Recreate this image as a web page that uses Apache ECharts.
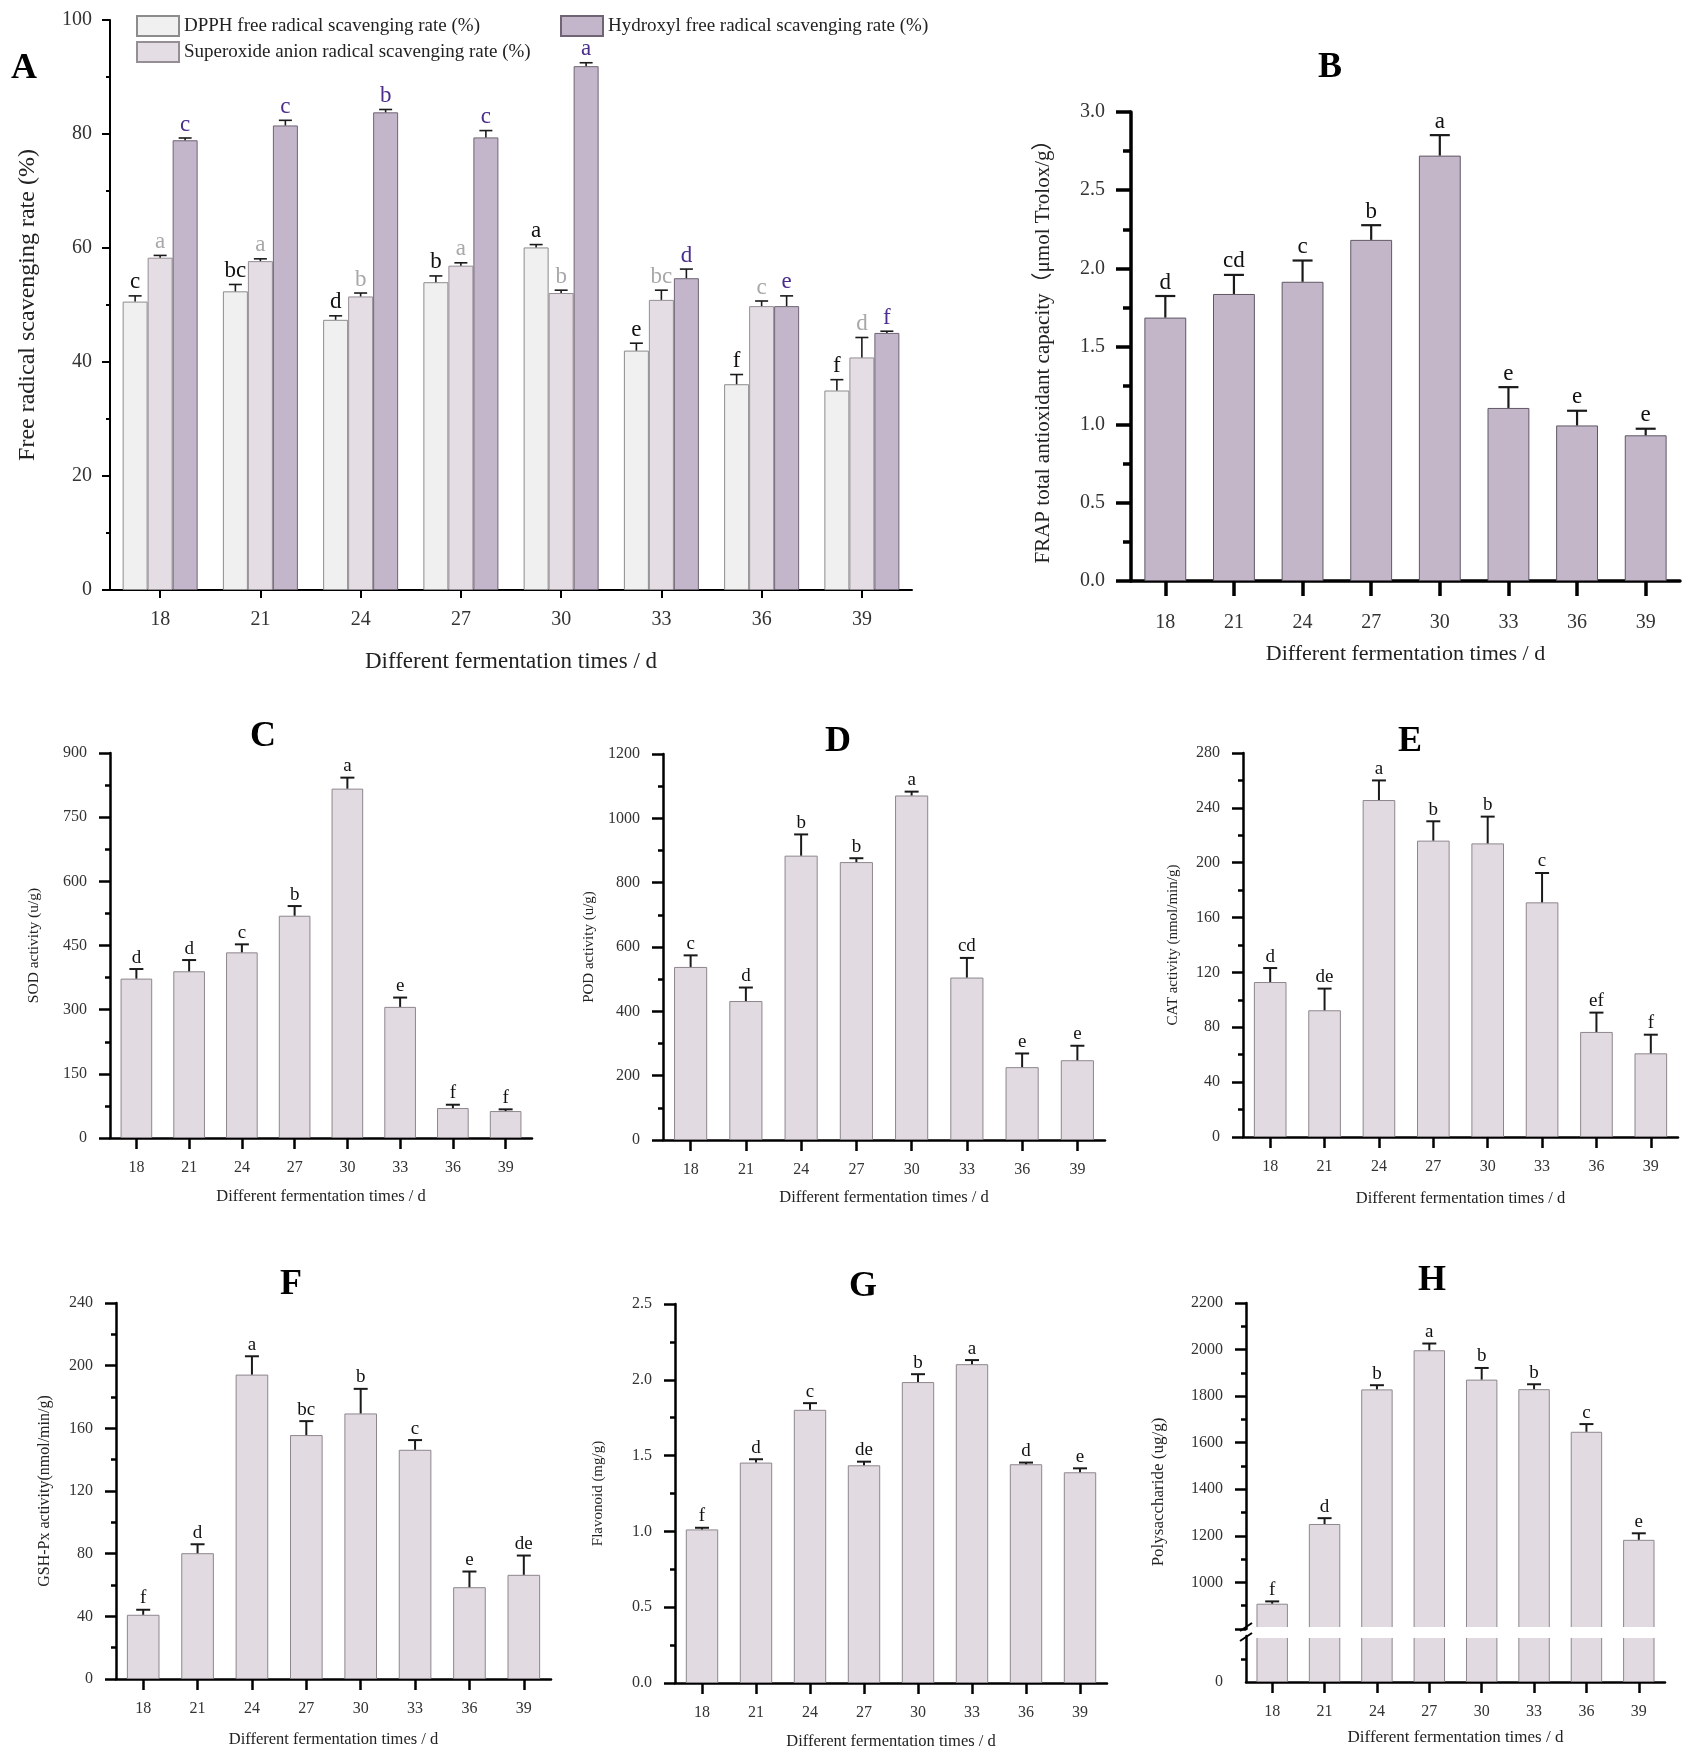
<!DOCTYPE html>
<html lang="en">
<head>
  <meta charset="UTF-8">
  <title>Antioxidant activity at different fermentation times</title>
  <script src="https://cdn.jsdelivr.net/npm/echarts@6/dist/echarts.min.js"></script>
  <style>
    html, body { margin: 0; padding: 0; background: #fff; }
    #main { width: 1697px; height: 1758px; }
  </style>
</head>
<body>
<div id="main"></div>
<script>
  var FONT = "'Liberation Serif', 'Noto Sans CJK SC', serif";
  var days = ['18', '21', '24', '27', '30', '33', '36', '39'];

  // A - free radical scavenging rate (%)
  var dpphMean = [50.6, 52.4, 47.4, 54.0, 60.1, 42.0, 36.1, 35.0];
  var dpphSd   = [1.0, 1.2, 0.7, 1.1, 0.5, 1.3, 1.7, 1.9];
  var dpphSig  = ['c', 'bc', 'd', 'b', 'a', 'e', 'f', 'f'];
  var supMean  = [58.3, 57.7, 51.5, 56.9, 52.1, 50.9, 49.8, 40.8];
  var supSd    = [0.4, 0.4, 0.6, 0.5, 0.5, 1.7, 0.9, 3.5];
  var supSig   = ['a', 'a', 'b', 'a', 'b', 'bc', 'c', 'd'];
  var hydMean  = [78.9, 81.5, 83.8, 79.4, 91.9, 54.7, 49.8, 45.1];
  var hydSd    = [0.4, 0.9, 0.5, 1.2, 0.6, 1.6, 1.8, 0.3];
  var hydSig   = ['c', 'c', 'b', 'c', 'a', 'd', 'e', 'f'];

  // B - FRAP
  var frapMean = [1.685, 1.836, 1.914, 2.182, 2.721, 1.107, 0.995, 0.932];
  var frapSd   = [0.138, 0.122, 0.136, 0.094, 0.131, 0.133, 0.094, 0.042];
  var frapSig  = ['d', 'cd', 'c', 'b', 'a', 'e', 'e', 'e'];

  // C - SOD
  var sodMean = [372.6, 389.7, 434, 519.6, 816.7, 306.5, 70, 63];
  var sodSd   = [22.4, 26.3, 18.7, 22.6, 25.7, 21.8, 7.8, 4];
  var sodSig  = ['d', 'd', 'c', 'b', 'a', 'e', 'f', 'f'];

  // D - POD
  var podMean = [538, 432, 884, 864, 1071, 505, 226.5, 248];
  var podSd   = [36, 42, 66, 12, 12, 61, 42.5, 45];
  var podSig  = ['c', 'd', 'b', 'b', 'a', 'cd', 'e', 'e'];

  // E - CAT
  var catMean = [113, 92.4, 245.7, 216.1, 214.1, 171.1, 76.6, 61];
  var catSd   = [10.2, 15.8, 14.3, 14.1, 19.5, 21.4, 14.1, 13.6];
  var catSig  = ['d', 'de', 'a', 'b', 'b', 'c', 'ef', 'f'];

  // F - GSH-Px
  var gshMean = [41, 80.3, 194.3, 155.7, 169.5, 146.3, 58.6, 66.5];
  var gshSd   = [3.2, 5.7, 11.7, 8.9, 15.7, 6.2, 10, 12.3];
  var gshSig  = ['f', 'd', 'a', 'bc', 'b', 'c', 'e', 'de'];

  // G - flavonoid
  var flaMean = [1.013, 1.454, 1.802, 1.436, 1.985, 2.103, 1.443, 1.39];
  var flaSd   = [0.011, 0.022, 0.044, 0.024, 0.052, 0.027, 0.011, 0.026];
  var flaSig  = ['f', 'd', 'c', 'de', 'b', 'a', 'd', 'e'];

  // H - polysaccharide (broken axis)
  var polMean = [908.6, 1251, 1829, 1997, 1871, 1830, 1647, 1183];
  var polSd   = [10, 25, 18, 29, 50, 21, 33, 28];
  var polSig  = ['f', 'd', 'b', 'a', 'b', 'b', 'c', 'e'];

  var xTitle = 'Different fermentation times / d';
  var grids = [], xAxes = [], yAxes = [], series = [];

  function addGrid(box, c) {
    var gi = grids.length;
    var xs = c.xShow !== false;
    grids.push({left: box[0], top: box[1], width: box[2], height: box[3]});
    xAxes.push({
      type: 'category', gridIndex: gi, data: days,
      axisLine: {show: xs, onZero: false, lineStyle: {color: '#000', width: c.lw}},
      axisTick: {show: xs, alignWithLabel: true, length: c.tick, lineStyle: {color: '#000', width: c.lw}},
      axisLabel: {show: xs, margin: c.xMargin, color: '#333', fontFamily: FONT, fontSize: c.fs},
      name: xs ? xTitle : '', nameLocation: 'middle', nameGap: c.xGap,
      nameTextStyle: {color: '#222', fontFamily: FONT, fontSize: c.xNameFs}
    });
    yAxes.push({
      type: 'value', gridIndex: gi, min: c.min, max: c.max, interval: c.step,
      axisLine: {show: true, lineStyle: {color: '#000', width: c.lw}},
      axisTick: {show: c.yTick !== false, length: c.tick, lineStyle: {color: '#000', width: c.lw}},
      minorTick: {show: true, splitNumber: 2, length: c.minor, lineStyle: {color: '#000', width: c.lw}},
      splitLine: {show: false},
      axisLabel: {margin: c.yMargin, color: '#333', fontFamily: FONT, fontSize: c.fs, formatter: c.fmt || plain},
      name: c.yName || '', nameLocation: 'middle', nameGap: c.yGap,
      nameTextStyle: {color: '#222', fontFamily: FONT, fontSize: c.yNameFs}
    });
    return gi;
  }

  function addBars(gi, name, means, width, style) {
    series.push({
      type: 'bar', name: name, xAxisIndex: gi, yAxisIndex: gi, data: means,
      barWidth: width, barGap: '0%', itemStyle: style, silent: true
    });
  }

  // error bar (upper half only) + significance letter
  function addErr(gi, means, sds, sig, o) {
    var data = means.map(function (m, i) { return [i, m, m + sds[i]]; });
    series.push({
      type: 'custom', xAxisIndex: gi, yAxisIndex: gi, data: data, z: 5, silent: true,
      renderItem: function (params, api) {
        var i = api.value(0);
        var p0 = api.coord([i, api.value(1)]);
        var p1 = api.coord([i, api.value(2)]);
        var x = p0[0] + (o.offset || 0);
        var ln = {stroke: '#1a1a1a', lineWidth: o.lw};
        return {
          type: 'group', children: [
            {type: 'line', shape: {x1: x, y1: p0[1], x2: x, y2: p1[1]}, style: ln},
            {type: 'line', shape: {x1: x - o.cap / 2, y1: p1[1], x2: x + o.cap / 2, y2: p1[1]}, style: ln},
            {type: 'text', x: x, y: p1[1] - 2, style: {
              text: sig[params.dataIndex], align: 'center', verticalAlign: 'bottom',
              font: o.font + 'px ' + FONT, fill: o.color || '#111'
            }}
          ]
        };
      }
    });
  }

  var plain = function (v) { return String(v); };
  var oneDec = function (v) { return v.toFixed(1); };
  var small = {lw: 2.5, tick: 11, minor: 5, fs: 16, xNameFs: 16.5, yNameFs: 15, xMargin: 22, yMargin: 23};
  function cfg(extra) {
    var r = {};
    for (var k in small) r[k] = small[k];
    for (var k2 in extra) r[k2] = extra[k2];
    return r;
  }
  var lilac = {color: '#e1dbe1', borderColor: '#8d878d', borderWidth: 1};

  // ---- A
  var gA = addGrid([110, 20, 802, 570], {
    min: 0, max: 100, step: 20, lw: 2, tick: 8, minor: 4, fs: 20, xNameFs: 23, yNameFs: 24,
    xMargin: 20, yMargin: 18, xGap: 60, yGap: 70, yName: 'Free radical scavenging rate (%)'
  });
  addBars(gA, 'DPPH free radical scavenging rate (%)', dpphMean, 25, {color: '#f1f0f1', borderColor: '#8c8c8c', borderWidth: 1});
  addBars(gA, 'Superoxide anion radical scavenging rate (%)', supMean, 25, {color: '#e4dde4', borderColor: '#958f95', borderWidth: 1});
  addBars(gA, 'Hydroxyl free radical scavenging rate (%)', hydMean, 25, {color: '#c4b6ca', borderColor: '#6e6474', borderWidth: 1});
  addErr(gA, dpphMean, dpphSd, dpphSig, {offset: -25, cap: 13, lw: 1.6, font: 23, color: '#111'});
  addErr(gA, supMean, supSd, supSig, {offset: 0, cap: 13, lw: 1.6, font: 23, color: '#a8a8a8'});
  addErr(gA, hydMean, hydSd, hydSig, {offset: 25, cap: 13, lw: 1.6, font: 23, color: '#4a2d8c'});

  // ---- B
  var gB = addGrid([1131, 112, 549, 469], {
    min: 0, max: 3, step: 0.5, lw: 3.5, tick: 15, minor: 8, fs: 20, xNameFs: 22, yNameFs: 21,
    xMargin: 32, yMargin: 26, xGap: 62, yGap: 77, fmt: oneDec,
    yName: 'FRAP total antioxidant capacity（μmol Trolox/g）'
  });
  addBars(gB, 'FRAP', frapMean, '61%', {color: '#c2b6c8', borderColor: '#5f5864', borderWidth: 1});
  addErr(gB, frapMean, frapSd, frapSig, {cap: 20, lw: 2.2, font: 23});

  // ---- C, D, E
  var gC = addGrid([110, 753, 422, 385], cfg({min: 0, max: 900, step: 150, xGap: 50, yGap: 68, yNameFs: 15.5, yName: 'SOD activity (u/g)'}));
  addBars(gC, 'SOD', sodMean, '60%', lilac);
  addErr(gC, sodMean, sodSd, sodSig, {cap: 14, lw: 2, font: 19});

  var gD = addGrid([663, 754, 442, 386], cfg({min: 0, max: 1200, step: 200, xGap: 49, yGap: 66, yName: 'POD activity (u/g)'}));
  addBars(gD, 'POD', podMean, '60%', lilac);
  addErr(gD, podMean, podSd, podSig, {cap: 14, lw: 2, font: 19});

  var gE = addGrid([1243, 753, 435, 384], cfg({min: 0, max: 280, step: 40, xGap: 53, yGap: 62, yName: 'CAT activity (nmol/min/g)'}));
  addBars(gE, 'CAT', catMean, '60%', lilac);
  addErr(gE, catMean, catSd, catSig, {cap: 14, lw: 2, font: 19});

  // ---- F, G
  var gF = addGrid([116, 1303, 435, 376], cfg({min: 0, max: 240, step: 40, xGap: 52, yGap: 63, yNameFs: 16, yName: 'GSH-Px activity(nmol/min/g)'}));
  addBars(gF, 'GSH-Px', gshMean, '60%', lilac);
  addErr(gF, gshMean, gshSd, gshSig, {cap: 14, lw: 2, font: 19});

  var gG = addGrid([675, 1304, 432, 379], cfg({min: 0, max: 2.5, step: 0.5, xGap: 50, yGap: 69, fmt: oneDec, yName: 'Flavonoid (mg/g)'}));
  addBars(gG, 'Flavonoid', flaMean, '60%', lilac);
  addErr(gG, flaMean, flaSd, flaSig, {cap: 14, lw: 2, font: 19});

  // ---- H : two stacked grids give the broken axis
  var gH = addGrid([1246, 1303, 419, 326], cfg({
    min: 800, max: 2200, step: 200, xShow: false,
    fmt: function (v) { return v === 800 ? '' : String(v); }
  }));
  addBars(gH, 'Polysaccharide', polMean, '60%', lilac);
  addErr(gH, polMean, polSd, polSig, {cap: 14, lw: 2, font: 19});
  var gH2 = addGrid([1246, 1636, 419, 46], cfg({
    min: 0, max: 200, step: 200, xGap: 47, xNameFs: 17, yTick: false,
    fmt: function (v) { return v === 0 ? '0' : ''; }
  }));
  addBars(gH2, 'Polysaccharide', polMean, '60%', lilac);

  var titleFont = 'bold 36px ' + FONT;
  var panelTitles = [['A', 24, 69], ['B', 1330, 68], ['C', 263, 737], ['D', 838, 742],
    ['E', 1410, 742], ['F', 291, 1285], ['G', 863, 1287], ['H', 1432, 1281]];
  var graphics = panelTitles.map(function (t) {
    return {type: 'text', x: t[1], y: t[2], style: {text: t[0], font: titleFont, fill: '#000', align: 'center', verticalAlign: 'middle'}};
  });
  graphics.push({type: 'text', x: 1159, y: 1492, rotation: Math.PI / 2,
    style: {text: 'Polysaccharide (ug/g)', font: '17px ' + FONT, fill: '#222', align: 'center', verticalAlign: 'middle'}});
  // white gap across the bars + break marks on H axis
  graphics.push({type: 'rect', z: 50, shape: {x: 1248, y: 1627, width: 420, height: 11}, style: {fill: '#fff'}});
  graphics.push({type: 'line', z: 51, shape: {x1: 1240, y1: 1631, x2: 1252, y2: 1623}, style: {stroke: '#000', lineWidth: 2}});
  graphics.push({type: 'line', z: 51, shape: {x1: 1240, y1: 1641, x2: 1252, y2: 1633}, style: {stroke: '#000', lineWidth: 2}});

  var legendText = {fontFamily: FONT, fontSize: 19, color: '#222'};
  var option = {
    animation: false,
    backgroundColor: '#fff',
    legend: [
      {left: 131, top: 10, orient: 'vertical', icon: 'rect', itemWidth: 42, itemHeight: 20, itemGap: 4,
        selectedMode: false, textStyle: legendText,
        data: ['DPPH free radical scavenging rate (%)', 'Superoxide anion radical scavenging rate (%)']},
      {left: 555, top: 10, icon: 'rect', itemWidth: 42, itemHeight: 20,
        selectedMode: false, textStyle: legendText,
        data: ['Hydroxyl free radical scavenging rate (%)']}
    ],
    grid: grids,
    xAxis: xAxes,
    yAxis: yAxes,
    series: series,
    graphic: graphics
  };

  var myChart = echarts.init(document.getElementById('main'));
  myChart.setOption(option);
</script>
</body>
</html>
